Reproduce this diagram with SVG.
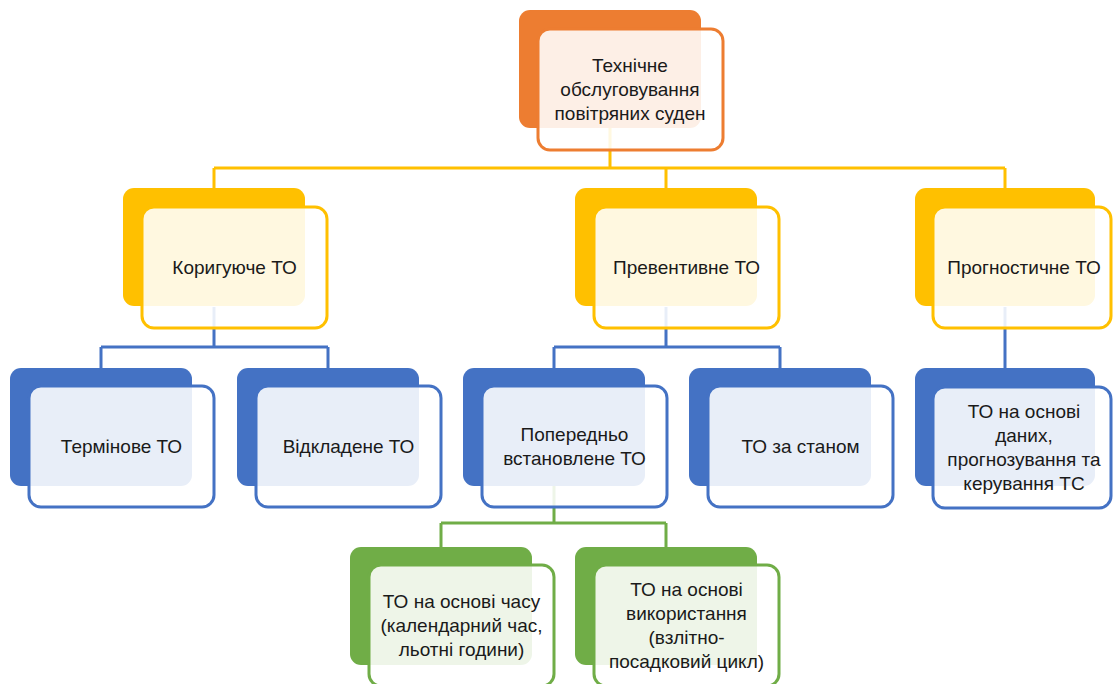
<svg xmlns="http://www.w3.org/2000/svg" width="1113" height="684" viewBox="0 0 1113 684">
<style>
.c{fill:none;stroke-width:3}
.cy{stroke:#FFC000}.cb{stroke:#4472C4}.cg{stroke:#70AD47}
.bk{rx:11px;ry:11px}
.fr{fill:#FFFFFF;fill-opacity:0.88;stroke-width:3;rx:12px;ry:12px}
.o .bk{fill:#ED7D31}.o .fr{stroke:#ED7D31}
.y .bk{fill:#FFC000}.y .fr{stroke:#FFC000}
.b .bk{fill:#4472C4}.b .fr{stroke:#4472C4}
.g .bk{fill:#70AD47}.g .fr{stroke:#70AD47}
text{font-family:"Liberation Sans",Arial,sans-serif;font-size:19px;fill:#1a1a1a;text-anchor:middle}
</style>
<rect width="1113" height="684" fill="#FFFFFF"/>
<g id="connectors">
<path class="c cy" d="M610,128V168M214,168H1005M214,168V188M666,168V188M1005,168V188"/>
<path class="c cb" d="M214,307V347M101,347H328M101,347V368M328,347V368M666,307V347M554,347H780M554,347V368M780,347V368M1005,307V368"/>
<path class="c cg" d="M554,485V523M441,523H666M441,523V547M666,523V547"/>
</g>
<g id="n-top" class="o">
<rect class="bk" x="519" y="10" width="182" height="118"/>
<rect class="fr" x="538" y="29" width="185" height="121"/>
<text x="630" y="72">Технічне</text>
<text x="630" y="96">обслуговування</text>
<text x="630" y="120">повітряних суден</text>
</g>
<g id="n-corrective" class="y">
<rect class="bk" x="123" y="188" width="182" height="118"/>
<rect class="fr" x="142" y="207" width="185" height="121"/>
<text x="234.5" y="274">Коригуюче ТО</text>
</g>
<g id="n-preventive" class="y">
<rect class="bk" x="575" y="188" width="182" height="118"/>
<rect class="fr" x="594" y="207" width="185" height="121"/>
<text x="686.5" y="274">Превентивне ТО</text>
</g>
<g id="n-prognostic" class="y">
<rect class="bk" x="915" y="188" width="180" height="118"/>
<rect class="fr" x="933" y="207" width="178" height="121"/>
<text x="1024" y="274">Прогностичне ТО</text>
</g>
<g id="n-urgent" class="b">
<rect class="bk" x="10" y="368" width="182" height="118"/>
<rect class="fr" x="29" y="386" width="185" height="121"/>
<text x="121.5" y="453">Термінове ТО</text>
</g>
<g id="n-deferred" class="b">
<rect class="bk" x="237" y="368" width="182" height="118"/>
<rect class="fr" x="256" y="386" width="185" height="121"/>
<text x="348.5" y="453">Відкладене ТО</text>
</g>
<g id="n-predetermined" class="b">
<rect class="bk" x="463" y="368" width="182" height="118"/>
<rect class="fr" x="482" y="386" width="185" height="121"/>
<text x="574.5" y="441">Попередньо</text>
<text x="574.5" y="465">встановлене ТО</text>
</g>
<g id="n-condition" class="b">
<rect class="bk" x="689" y="368" width="182" height="118"/>
<rect class="fr" x="708" y="386" width="185" height="121"/>
<text x="800.5" y="453">ТО за станом</text>
</g>
<g id="n-data" class="b">
<rect class="bk" x="915" y="368" width="180" height="118"/>
<rect class="fr" x="933" y="387" width="178" height="121"/>
<text x="1024" y="418">ТО на основі</text>
<text x="1024" y="442">даних,</text>
<text x="1024" y="466">прогнозування та</text>
<text x="1024" y="490">керування ТС</text>
</g>
<g id="n-time" class="g">
<rect class="bk" x="350" y="547" width="182" height="118"/>
<rect class="fr" x="369" y="565" width="185" height="121"/>
<text x="461.5" y="608">ТО на основі часу</text>
<text x="461.5" y="632">(календарний час,</text>
<text x="461.5" y="656">льотні години)</text>
</g>
<g id="n-usage" class="g">
<rect class="bk" x="575" y="547" width="182" height="118"/>
<rect class="fr" x="594" y="565" width="185" height="121"/>
<text x="686.5" y="596">ТО на основі</text>
<text x="686.5" y="620">використання</text>
<text x="686.5" y="644">(взлітно-</text>
<text x="686.5" y="668">посадковий цикл)</text>
</g>
</svg>
